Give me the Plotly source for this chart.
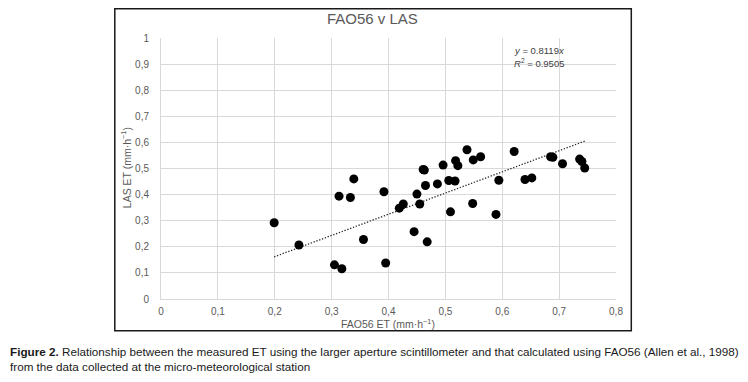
import plotly.graph_objects as go

# Data
fao56_et = [0.199, 0.2425, 0.305, 0.318, 0.313, 0.333, 0.339, 0.356, 0.392, 0.395,
            0.419, 0.426, 0.445, 0.450, 0.455, 0.461, 0.463, 0.465, 0.468, 0.486,
            0.496, 0.509, 0.506, 0.517, 0.518, 0.522, 0.538, 0.549, 0.562, 0.548,
            0.589, 0.594, 0.621, 0.640, 0.652, 0.685, 0.689, 0.706, 0.736, 0.740, 0.745]
las_et = [0.292, 0.207, 0.131, 0.116, 0.394, 0.389, 0.460, 0.228, 0.411, 0.138,
          0.348, 0.364, 0.258, 0.402, 0.364, 0.496, 0.494, 0.435, 0.219, 0.441,
          0.513, 0.334, 0.454, 0.452, 0.530, 0.511, 0.572, 0.533, 0.545, 0.366,
          0.324, 0.455, 0.565, 0.458, 0.464, 0.545, 0.543, 0.518, 0.536, 0.527, 0.502]

slope = 0.8119
r_squared = 0.9505
trend_x = [min(fao56_et), max(fao56_et)]
trend_y = [slope * v for v in trend_x]

x_tick_vals = [0, 0.1, 0.2, 0.3, 0.4, 0.5, 0.6, 0.7, 0.8]
x_tick_text = ["0", "0,1", "0,2", "0,3", "0,4", "0,5", "0,6", "0,7", "0,8"]
y_tick_vals = [0, 0.1, 0.2, 0.3, 0.4, 0.5, 0.6, 0.7, 0.8, 0.9, 1]
y_tick_text = ["0", "0,1", "0,2", "0,3", "0,4", "0,5", "0,6", "0,7", "0,8", "0,9", "1"]

title_text = "FAO56 v LAS"
x_title = "FAO56 ET (mm·h<sup>−1</sup>)"
y_title = "LAS ET (mm·h<sup>−1</sup>)"
caption_1 = ("<b>Figure 2.</b> Relationship between the measured ET using the larger aperture "
             "scintillometer and that calculated using FAO56 (Allen et al., 1998)")
caption_2 = "from the data collected at the micro-meteorological station"

grey = "#595959"
grid = "#d9d9d9"
font_main = "Liberation Sans, Arial, sans-serif"
font_caption = "Liberation Sans, Arial, sans-serif"

fig = go.Figure()
fig.add_trace(go.Scatter(x=trend_x, y=trend_y, mode="lines",
                         line=dict(color="#262626", width=1.3, dash="1.3px,1.7px"),
                         showlegend=False, hoverinfo="skip"))
fig.add_trace(go.Scatter(x=fao56_et, y=las_et, mode="markers",
                         marker=dict(color="black", size=9),
                         showlegend=False))

# The page body has an 8px margin, so the figure starts at (8, 8) in the window.
OFF = 8
W, H = 748 - OFF, 382 - OFF
# plot area in window pixels: x 160.7..615.7, y 38..299.3
L, R, T, B = 160.7 - OFF, 615.7 - OFF, 38.0 - OFF, 299.3 - OFF
pw, ph = R - L, B - T


def px(xw):
    return (xw - OFF - L) / pw


def py(yw):
    return (B - (yw - OFF)) / ph


fig.update_layout(
    width=W, height=H,
    margin=dict(l=L, r=W - R, t=T, b=H - B, pad=0),
    paper_bgcolor="white", plot_bgcolor="white",
    font=dict(family=font_main, color=grey, size=10),
    xaxis=dict(range=[0, 0.8], tickvals=x_tick_vals, ticktext=x_tick_text,
               showgrid=True, gridcolor=grid, gridwidth=1, zeroline=False,
               showline=True, linecolor=grid, linewidth=1, ticks="",
               ticklabelstandoff=3, automargin=False, fixedrange=True),
    yaxis=dict(range=[0, 1], tickvals=y_tick_vals, ticktext=y_tick_text,
               showgrid=True, gridcolor=grid, gridwidth=1, zeroline=False,
               showline=True, linecolor=grid, linewidth=1, ticks="",
               ticklabelstandoff=9, automargin=False, fixedrange=True),
    shapes=[dict(type="rect", xref="paper", yref="paper",
                 x0=px(114.5), x1=px(631), y0=py(331), y1=py(8.8),
                 line=dict(color="#1a1a1a", width=1.5), layer="below")],
    annotations=[
        dict(text=title_text, xref="paper", yref="paper", x=px(372), y=py(18),
             xanchor="center", yanchor="middle", showarrow=False,
             font=dict(size=15, color=grey, family=font_main)),
        dict(text=x_title, xref="paper", yref="paper", x=px(388), y=py(324),
             xanchor="center", yanchor="middle", showarrow=False,
             font=dict(size=10.5, color=grey, family=font_main)),
        dict(text=y_title, xref="paper", yref="paper", x=px(126), y=py(168),
             xanchor="center", yanchor="middle", showarrow=False, textangle=-90,
             font=dict(size=10.5, color=grey, family=font_main)),
        dict(text=f"<i>y</i> = {slope}<i>x</i>", xref="paper", yref="paper",
             x=px(512), y=py(51), xanchor="left", yanchor="middle", showarrow=False,
             font=dict(size=9.5, color="#404040", family=font_main)),
        dict(text=f"<i>R</i><sup>2</sup> = {r_squared}", xref="paper", yref="paper",
             x=px(512), y=py(63.5), xanchor="left", yanchor="middle", showarrow=False,
             font=dict(size=9.5, color="#404040", family=font_main)),
        dict(text=caption_1, xref="paper", yref="paper", x=px(7.5), y=py(352),
             xanchor="left", yanchor="middle", showarrow=False,
             font=dict(size=11.7, color="#1a1a1a", family=font_caption)),
        dict(text=caption_2, xref="paper", yref="paper", x=px(7.5), y=py(367),
             xanchor="left", yanchor="middle", showarrow=False,
             font=dict(size=11.7, color="#1a1a1a", family=font_caption)),
    ],
)

fig.write_html("out.html")
